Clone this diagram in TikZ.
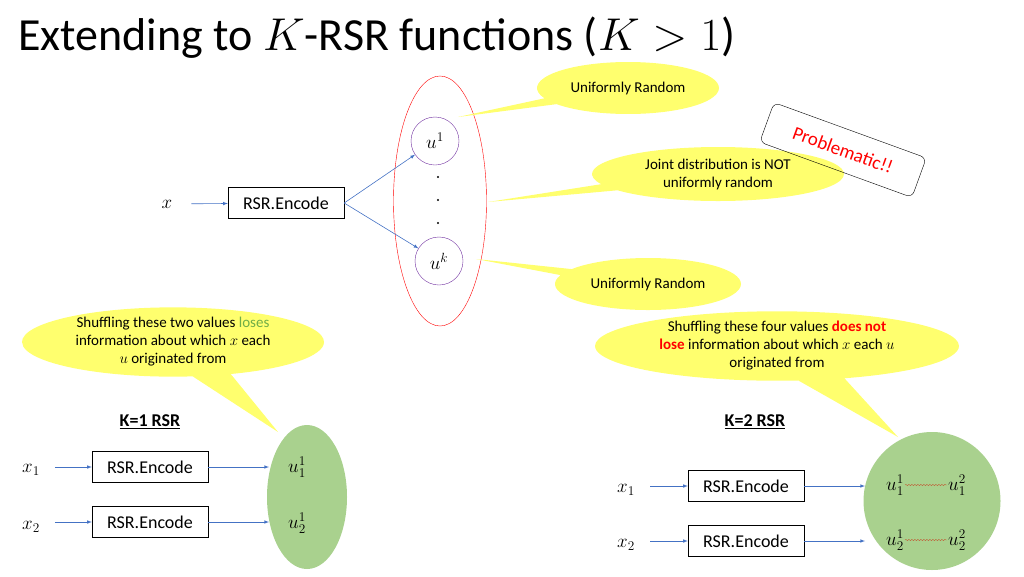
\documentclass[tikz,border=0pt]{standalone}
\usepackage{fix-cm}
\usepackage{fontspec}
\setmainfont{Carlito}
\usetikzlibrary{shapes.geometric,shapes.callouts,decorations.pathmorphing}

\definecolor{bubbleyellow}{RGB}{255,255,110}
\definecolor{ugreen}{RGB}{169,209,142}
\definecolor{flowblue}{RGB}{68,114,196}
\definecolor{upurple}{RGB}{112,48,160}
\definecolor{wavebrown}{RGB}{190,100,60}
\definecolor{losegreen}{RGB}{112,173,71}

\tikzset{
  bubble/.style={ellipse callout, fill=bubbleyellow, inner sep=0pt, align=center,
    font=\fontsize{15}{18}\selectfont},
  encbox/.style={draw, minimum width=116pt, minimum height=31pt, inner sep=0pt,
    font=\fontsize{18}{22}\selectfont},
  flow/.style={draw=flowblue, -latex, line width=0.6pt},
  ucirc/.style={draw=upurple, circle, minimum size=48pt, inner sep=0pt,
    font=\fontsize{19}{22}\selectfont},
  mathlab/.style={inner sep=1pt, font=\fontsize{19}{22}\selectfont},
  wavy/.style={draw=wavebrown, decorate, decoration={snake, amplitude=0.7pt, segment length=3pt}}
}

\begin{document}
\begin{tikzpicture}[x=1pt, y=-1pt]
  \useasboundingbox (0,0) rectangle (1024,576);

  \node[anchor=base west, inner sep=0pt, font=\fontsize{46}{50}\selectfont] (title) at (18,50)
    {Extending to $K$-RSR functions ($K>1$)};

  % top: one encoder, K outputs
  \node[draw=red, ellipse, minimum width=93pt, minimum height=250pt] (group) at (440,201) {};
  \node[ucirc] (ua) at (435,141) {$u^1$};
  \node[ucirc] (uk) at (439,261) {$u^k$};
  \node[circle, fill, inner sep=0.8pt] (d1) at (438,177) {};
  \node[circle, fill, inner sep=0.8pt] (d2) at (438,200) {};
  \node[circle, fill, inner sep=0.8pt] (d3) at (438,223) {};

  \node[mathlab] (x) at (167,204) {$x$};
  \node[encbox] (enc) at (286,203) {RSR.Encode};
  \draw[flow, shorten <=18pt] (x) -- (enc);
  \draw[flow] (enc.east) -- (ua);
  \draw[flow] (enc.east) -- (uk);

  \node[bubble, minimum width=182pt, minimum height=52pt,
    callout absolute pointer={(458,117)}] (bubA) at (628,88) {Uniformly Random};
  \node[bubble, minimum width=252pt, minimum height=54pt,
    callout absolute pointer={(488,202)}] (bubB) at (718,174)
    {Joint distribution is NOT\\ uniformly random};
  \node[bubble, minimum width=186pt, minimum height=52pt,
    callout absolute pointer={(476,259)}] (bubC) at (648,284) {Uniformly Random};

  \node[draw, rounded corners=6pt, rotate=-20, minimum width=162pt, minimum height=42pt,
    text=red, font=\fontsize{19}{22}\selectfont] (warn) at (843,150) {Problematic!!};

  % K=1 RSR
  \node[bubble, minimum width=302pt, minimum height=64pt,
    callout absolute pointer={(278,432)}] (bubL) at (173,342)
    {Shuffling these two values \textcolor{losegreen}{loses}\\
     information about which $x$ each\\ $u$ originated from};
  \node[font=\fontsize{18}{22}\selectfont\bfseries] (headL) at (150,422) {\underline{K=1 RSR}};

  \node[ellipse, fill=ugreen, minimum width=80pt, minimum height=144pt] (poolL) at (307,497) {};
  \node[mathlab] (xa) at (31,470) {$x_1$};
  \node[mathlab] (xb) at (31,527) {$x_2$};
  \node[encbox] (enca) at (150,467) {RSR.Encode};
  \node[encbox] (encb) at (150,522) {RSR.Encode};
  \node[mathlab] (uaa) at (297,467) {$u_1^1$};
  \node[mathlab] (uba) at (297,523) {$u_2^1$};
  \draw[flow, shorten <=14pt] (xa.east |- enca) -- (enca);
  \draw[flow, shorten <=14pt] (xb.east |- encb) -- (encb);
  \draw[flow, shorten >=18pt] (enca) -- (uaa.west |- enca);
  \draw[flow, shorten >=18pt] (encb) -- (uba.west |- encb);

  % K=2 RSR
  \node[bubble, minimum width=364pt, minimum height=62pt,
    callout absolute pointer={(898,437)}] (bubR) at (777,346)
    {Shuffling these four values \textcolor{red}{\textbf{does not}}\\
     \textcolor{red}{\textbf{lose}} information about which $x$ each $u$\\ originated from};
  \node[font=\fontsize{18}{22}\selectfont\bfseries] (headR) at (755,422) {\underline{K=2 RSR}};

  \node[ellipse, fill=ugreen, minimum width=137pt, minimum height=138pt] (poolR) at (932,501) {};
  \node[mathlab] (xc) at (626,490) {$x_1$};
  \node[mathlab] (xd) at (626,545) {$x_2$};
  \node[encbox] (encc) at (746,486) {RSR.Encode};
  \node[encbox] (encd) at (746,541) {RSR.Encode};
  \node[mathlab] (uca) at (895,485) {$u_1^1$};
  \node[mathlab] (ucb) at (957,485) {$u_1^2$};
  \node[mathlab] (uda) at (895,540) {$u_2^1$};
  \node[mathlab] (udb) at (957,540) {$u_2^2$};
  \draw[flow, shorten <=14pt] (xc.east |- encc) -- (encc);
  \draw[flow, shorten <=14pt] (xd.east |- encd) -- (encd);
  \draw[flow, shorten >=20pt] (encc) -- (uca.west |- encc);
  \draw[flow, shorten >=20pt] (encd) -- (uda.west |- encd);
  \draw[wavy] (uca.east) -- (ucb.west);
  \draw[wavy] (uda.east) -- (udb.west);
\end{tikzpicture}
\end{document}
